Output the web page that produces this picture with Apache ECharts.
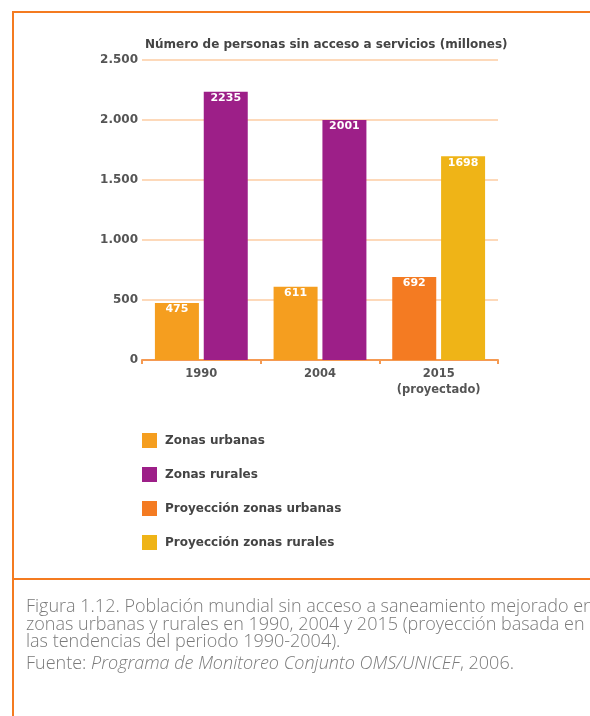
<!DOCTYPE html>
<html>
<head>
<meta charset="utf-8">
<script src="https://cdn.jsdelivr.net/npm/echarts@6/dist/echarts.min.js"></script>
<style>
  html, body { margin: 0; padding: 0; background: #fff; }
  #chart { width: 590px; height: 716px; }
</style>
</head>
<body>
<div id="chart"></div>
<script>
var years = ['1990', '2004', '2015\n(proyectado)'];
var urbanas = [475, 611, null];
var rurales = [2235, 2001, null];
var proyUrbanas = [null, null, 692];
var proyRurales = [null, null, 1698];
var yTicks = [0, 500, 1000, 1500, 2000, 2500];

var chartFont = 'DejaVu Sans';
var capFont = 'Open Sans';
var orange = '#F47B20';

function fmtThousands(v) {
    return String(v).replace(/\B(?=(\d{3})+(?!\d))/g, '.');
}

function barSeries(name, data, stack, color) {
    return {
        name: name,
        type: 'bar',
        stack: stack,
        data: data,
        barWidth: 44,
        barGap: '11%',
        itemStyle: { color: color },
        label: {
            show: true,
            position: 'insideTop',
            distance: 1,
            color: '#fff',
            fontFamily: chartFont,
            fontWeight: 'bold',
            fontSize: 11
        }
    };
}

var mChart = echarts.init(document.getElementById('chart'));
mChart.setOption({
    animation: false,
    title: {
        text: 'Número de personas sin acceso a servicios (millones)',
        left: 145,
        top: 39,
        padding: 0,
        textStyle: { fontFamily: chartFont, fontWeight: 'bold', fontSize: 12, color: '#444' }
    },
    grid: { left: 142, width: 356, top: 60, height: 300 },
    legend: {
        orient: 'vertical',
        left: 142,
        top: 433,
        padding: 0,
        itemWidth: 15,
        itemHeight: 15,
        itemGap: 19,
        icon: 'rect',
        textStyle: { fontFamily: chartFont, fontWeight: 'bold', fontSize: 12, color: '#444', padding: [0, 0, 0, 3] }
    },
    xAxis: {
        type: 'category',
        data: years,
        axisLine: { lineStyle: { color: '#F59A52', width: 2 } },
        axisTick: { show: true, length: 4, lineStyle: { color: '#F59A52', width: 2 } },
        axisLabel: { fontFamily: chartFont, fontWeight: 'bold', fontSize: 11.5, color: '#555', margin: 6, lineHeight: 16 }
    },
    yAxis: {
        type: 'value',
        min: yTicks[0],
        max: yTicks[yTicks.length - 1],
        interval: 500,
        axisLine: { show: false },
        axisTick: { show: false },
        splitLine: { lineStyle: { color: '#FCCDA3', width: 1.5 } },
        axisLabel: {
            fontFamily: chartFont, fontWeight: 'bold', fontSize: 12, color: '#555', margin: 4,
            formatter: fmtThousands
        }
    },
    series: [
        barSeries('Zonas urbanas', urbanas, 'u', '#F59E1F'),
        barSeries('Zonas rurales', rurales, 'r', '#9D1F88'),
        barSeries('Proyección zonas urbanas', proyUrbanas, 'u', '#F47B22'),
        barSeries('Proyección zonas rurales', proyRurales, 'r', '#EFB417')
    ],
    graphic: [
        { type: 'line', shape: { x1: 13, y1: 12, x2: 590, y2: 12 }, style: { stroke: orange, lineWidth: 2 } },
        { type: 'line', shape: { x1: 13, y1: 11, x2: 13, y2: 716 }, style: { stroke: orange, lineWidth: 2 } },
        { type: 'line', shape: { x1: 13, y1: 579, x2: 590, y2: 579 }, style: { stroke: orange, lineWidth: 2 } },
        {
            type: 'text', left: 26, top: 598,
            style: {
                text: 'Figura 1.12. Población mundial sin acceso a saneamiento mejorado en\nzonas urbanas y rurales en 1990, 2004 y 2015 (proyección basada en\nlas tendencias del periodo 1990-2004).',
                fontFamily: capFont, fontWeight: 300, fontSize: 18, lineHeight: 17.5, fill: '#7a7a7a'
            }
        },
        {
            type: 'text', left: 26, top: 655,
            style: {
                text: '{n|Fuente: }{i|Programa de Monitoreo Conjunto OMS/UNICEF}{n|, 2006.}',
                rich: {
                    n: { fontFamily: capFont, fontWeight: 300, fontSize: 18, fill: '#7a7a7a' },
                    i: { fontFamily: capFont, fontWeight: 300, fontStyle: 'italic', fontSize: 18, fill: '#7a7a7a' }
                }
            }
        }
    ]
});
</script>
</body>
</html>
